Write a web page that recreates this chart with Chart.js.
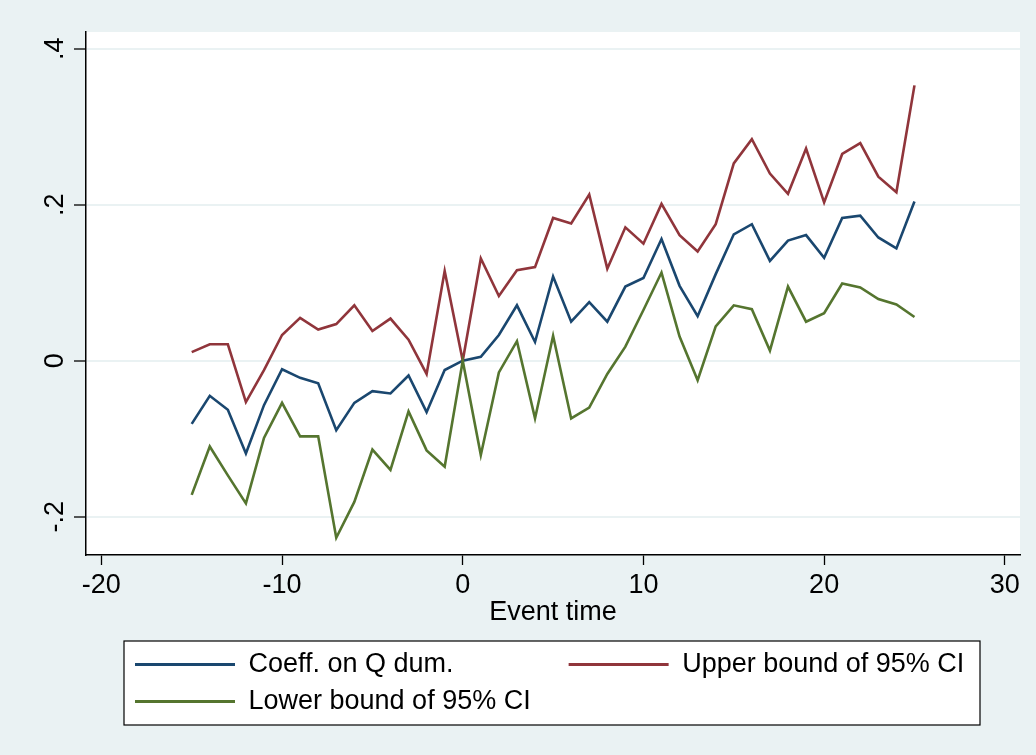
<!DOCTYPE html>
<html>
<head>
<meta charset="utf-8">
<script src="https://cdn.jsdelivr.net/npm/chart.js@4.4.0/dist/chart.umd.min.js"></script>
<style>
  html, body { margin: 0; padding: 0; background: #eaf2f3; }
  #wrap { width: 1036px; height: 755px; }
</style>
</head>
<body>
<div id="wrap"><canvas id="chart" width="1036" height="755"></canvas></div>
<script>
// event time on the x axis
const eventTime = [-15, -14, -13, -12, -11, -10, -9, -8, -7, -6, -5, -4, -3, -2, -1, 0,
  1, 2, 3, 4, 5, 6, 7, 8, 9, 10, 11, 12, 13, 14, 15, 16, 17, 18, 19, 20, 21, 22, 23, 24, 25];

const coeff = [-0.081, -0.045, -0.063, -0.119, -0.057, -0.011, -0.022, -0.029, -0.089, -0.054,
  -0.039, -0.042, -0.019, -0.066, -0.012, 0,
  0.005, 0.033, 0.071, 0.024, 0.108, 0.050, 0.075, 0.050, 0.095, 0.106,
  0.156, 0.096, 0.057, 0.111, 0.162, 0.175, 0.128, 0.154, 0.161, 0.132,
  0.183, 0.186, 0.158, 0.144, 0.204];

const upper = [0.011, 0.021, 0.021, -0.053, -0.012, 0.033, 0.055, 0.040, 0.047, 0.071,
  0.038, 0.054, 0.027, -0.017, 0.115, 0,
  0.131, 0.083, 0.116, 0.120, 0.183, 0.176, 0.213, 0.118, 0.171, 0.150,
  0.201, 0.161, 0.140, 0.175, 0.253, 0.284, 0.240, 0.214, 0.272, 0.203,
  0.265, 0.279, 0.236, 0.216, 0.353];

const lower = [-0.172, -0.110, -0.147, -0.183, -0.099, -0.054, -0.097, -0.097, -0.227, -0.181,
  -0.114, -0.140, -0.065, -0.115, -0.136, 0,
  -0.121, -0.015, 0.025, -0.074, 0.032, -0.074, -0.060, -0.017, 0.018, 0.065,
  0.113, 0.031, -0.025, 0.044, 0.071, 0.066, 0.013, 0.095, 0.050, 0.061,
  0.099, 0.094, 0.079, 0.072, 0.056];

const seriesNames = ['Coeff. on Q dum.', 'Upper bound of 95% CI', 'Lower bound of 95% CI'];
const xTicks = [-20, -10, 0, 10, 20, 30];
const yTicks = [-0.2, 0, 0.2, 0.4];
const yTickLabels = ['-.2', '0', '.2', '.4'];
const xTitle = 'Event time';

const BG = '#eaf2f3';
const FONT = { family: '"Liberation Sans", Arial, Helvetica, sans-serif', size: 27 };
const colors = ['#1a476f', '#90353b', '#55752f'];

const toPoints = (ys) => eventTime.map((x, i) => ({ x, y: ys[i] }));

// stata-ish backdrop: grey graph region, white plot region, boxed legend
const backdrop = {
  id: 'backdrop',
  afterLayout(chart) {
    chart.legend.left = 125;
  },
  beforeDraw(chart) {
    const { ctx, chartArea: a, legend } = chart;
    ctx.save();
    ctx.fillStyle = BG;
    ctx.fillRect(0, 0, chart.width, chart.height);
    ctx.fillStyle = '#fff';
    ctx.fillRect(a.left, a.top, a.right - a.left, a.bottom - a.top);
    const lx = legend.left - 1, lw = 856;
    ctx.fillRect(lx, legend.top, lw, legend.bottom - legend.top);
    ctx.strokeStyle = '#000';
    ctx.lineWidth = 1.2;
    ctx.strokeRect(lx, legend.top, lw, legend.bottom - legend.top);
    ctx.restore();
  }
};

const lineSet = (i, data, order) => ({
  label: seriesNames[i],
  data: toPoints(data),
  borderColor: colors[i],
  backgroundColor: colors[i],
  borderWidth: 2.6,
  pointRadius: 0,
  tension: 0,
  order
});

new Chart(document.getElementById('chart'), {
  type: 'line',
  data: {
    datasets: [lineSet(0, coeff, 3), lineSet(1, upper, 2), lineSet(2, lower, 1)]
  },
  options: {
    responsive: false,
    animation: false,
    layout: { padding: { top: 32, right: 16, left: 0, bottom: 30 } },
    plugins: {
      tooltip: { enabled: false },
      legend: {
        position: 'bottom',
        align: 'start',
        labels: {
          font: FONT,
          color: '#000',
          boxWidth: 100,
          boxHeight: 3,
          padding: 10,
          generateLabels: (chart) => chart.data.datasets.map((ds, i) => ({
            // first column is padded so the second entry starts in its own column
            text: i === 0 ? ds.label + ' '.repeat(14) : ds.label,
            fillStyle: ds.borderColor,
            strokeStyle: ds.borderColor,
            lineWidth: 0,
            hidden: false,
            datasetIndex: i
          }))
        }
      }
    },
    scales: {
      x: {
        type: 'linear',
        min: -20.85,
        max: 30.84,
        afterBuildTicks: (s) => { s.ticks = xTicks.map((v) => ({ value: v })); },
        afterFit: (s) => { s.height = 86; },
        ticks: { font: FONT, color: '#000', padding: 4, autoSkip: false, maxRotation: 0, callback: (v) => String(v) },
        grid: { drawOnChartArea: false, drawTicks: true, tickLength: 10, tickColor: '#000', tickWidth: 1.3 },
        border: { display: true, color: '#000', width: 1.5 },
        title: { display: true, text: xTitle, font: FONT, color: '#000', padding: { top: 0, bottom: 12 } }
      },
      y: {
        type: 'linear',
        min: -0.2491,
        max: 0.4214,
        afterBuildTicks: (s) => { s.ticks = yTicks.map((v) => ({ value: v })); },
        afterFit: (s) => { s.width = 86; },
        ticks: {
          font: FONT, color: '#000', padding: 3, autoSkip: false,
          minRotation: 90, maxRotation: 90, crossAlign: 'center',
          callback: (v) => yTickLabels[yTicks.findIndex((t) => Math.abs(t - v) < 1e-9)]
        },
        grid: { color: BG, lineWidth: 2, drawTicks: true, tickLength: 12, tickColor: '#000', tickWidth: 1.3 },
        border: { display: true, color: '#000', width: 1.5 }
      }
    }
  },
  plugins: [backdrop]
});
</script>
</body>
</html>
